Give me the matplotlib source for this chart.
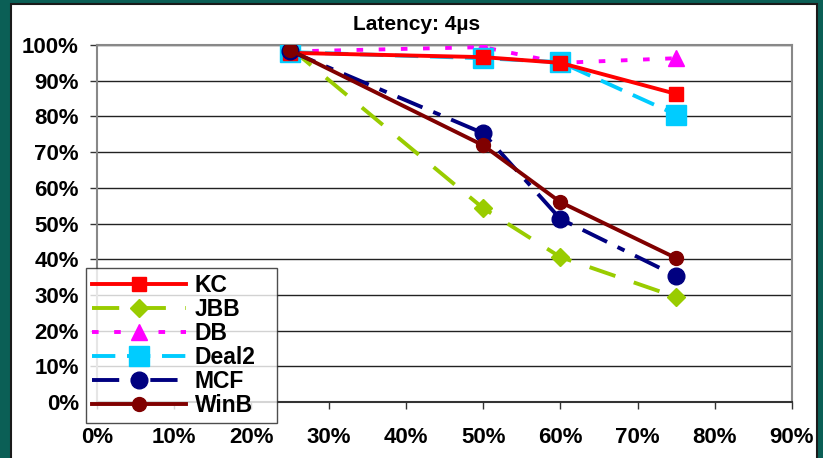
import matplotlib
matplotlib.use("Agg")
import matplotlib.pyplot as plt
from matplotlib.patches import Rectangle
from matplotlib.ticker import FuncFormatter, MultipleLocator

plt.rcParams['font.family'] = ['Liberation Sans', 'DejaVu Sans']

x_vals = [25, 50, 60, 75]
kc = [97.8, 96.6, 95.0, 86.3]
jbb = [99.2, 54.3, 40.6, 29.4]
db = [98.2, 99.4, 95.0, 96.3]
deal2 = [98.0, 96.3, 95.2, 80.5]
mcf = [98.3, 75.3, 51.3, 35.3]
winb = [98.6, 71.9, 56.0, 40.3]
title = "Latency: 4µs"

fig = plt.figure(figsize=(8.23, 4.58), dpi=100)
fig.patch.set_facecolor('#0b5f56')
panel = Rectangle((11/823, -0.01), (817-11)/823, 1.01 - 4/458, transform=fig.transFigure,
                  facecolor='white', edgecolor='#1a1a1a', linewidth=1.5, zorder=-10)
fig.patches.append(panel)

ax = fig.add_axes([97/823, 1-402/458, (792-97)/823, (402-45)/458])
ax.set_facecolor('white')
ax.set_xlim(0, 90)
ax.set_ylim(0, 100)
ax.xaxis.set_major_locator(MultipleLocator(10))
ax.yaxis.set_major_locator(MultipleLocator(10))
fmt = FuncFormatter(lambda v, p: f"{int(round(v))}%")
ax.xaxis.set_major_formatter(fmt)
ax.yaxis.set_major_formatter(fmt)
ax.grid(axis='y', color='#222222', linewidth=1.0)
ax.set_axisbelow(True)
for s in ['top', 'right', 'left']:
    ax.spines[s].set_color('#888888')
    ax.spines[s].set_linewidth(1.5)
ax.spines['bottom'].set_color('#333333')
ax.spines['bottom'].set_linewidth(1.5)
ax.tick_params(axis='both', labelsize=16, length=5, color='#333333', width=1)
ax.tick_params(axis='x', pad=13)
ax.tick_params(axis='y', pad=8)
for lab in ax.get_xticklabels() + ax.get_yticklabels():
    lab.set_fontweight('bold')

lw = 2.8
ax.plot(x_vals, kc, color='#ff0000', lw=lw, marker='s', ms=9.5, label='KC', zorder=5)
ax.plot(x_vals, jbb, color='#99cc00', lw=lw, ls=(0, (7, 5)), marker='D', ms=9, label='JBB', zorder=4)
ax.plot(x_vals, db, color='#ff00ff', lw=lw, ls=(0, (1.7, 4)), marker='^', ms=11, label='DB', zorder=3)
ax.plot(x_vals, deal2, color='#00ccff', lw=lw, ls=(0, (6, 3)), marker='s', ms=15, label='Deal2', zorder=4)
ax.plot(x_vals, mcf, color='#000080', lw=lw, ls=(0, (7, 3, 2, 3)), marker='o', ms=12, label='MCF', zorder=5)
ax.plot(x_vals, winb, color='#800000', lw=lw, marker='o', ms=10, label='WinB', zorder=6)

leg = ax.legend(loc='lower left', bbox_to_anchor=(86/823, 1-423/458, (277-86)/823, (423-267)/458),
                bbox_transform=fig.transFigure, mode='expand',
                prop={'size': 16.5, 'weight': 'bold'}, frameon=True, fancybox=False,
                edgecolor='#222222', handlelength=4.1, handletextpad=0.4,
                labelspacing=0.05, borderpad=0.25, borderaxespad=0)
leg.get_frame().set_linewidth(1.0)
leg.set_zorder(10)

fig.text(417/823, 1-24/458, title, ha='center', va='center', fontsize=15, fontweight='bold')

fig.savefig('out.png', dpi=100, facecolor=fig.get_facecolor())
